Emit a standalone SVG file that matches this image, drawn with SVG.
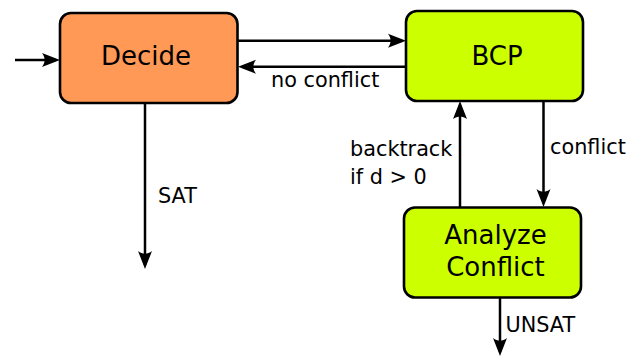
<svg xmlns="http://www.w3.org/2000/svg" width="641" height="357" viewBox="0 0 641 357">
<style>
.box{stroke:#000;stroke-width:2.6}
.orange{fill:#ff9955}
.green{fill:#ccff00}
.t{font-family:"DejaVu Sans",sans-serif;font-size:26px;fill:#000;text-anchor:middle}
.l{font-family:"DejaVu Sans",sans-serif;font-size:20.8px;fill:#000}
.c{fill:none;stroke:#000;stroke-width:2.5;marker-end:url(#ah)}
</style>
<defs>
<marker id="ah" markerUnits="userSpaceOnUse" viewBox="-14 -8 20 16" refX="0" refY="0" markerWidth="20" markerHeight="16" orient="auto" overflow="visible">
<path d="M4,0 L-14,-7 C-10.5,-2.5 -10.5,2.5 -14,7 Z" fill="#000"/>
</marker>
</defs>
<g id="connectors">
<path class="c" d="M15,60 H56"/>
<path class="c" d="M238,40.7 H402"/>
<path class="c" d="M406,66.7 H242"/>
<path class="c" d="M145,103 V265"/>
<path class="c" d="M460,207 V105"/>
<path class="c" d="M543.5,101 V203"/>
<path class="c" d="M500,297 V352"/>
<text class="l" x="271" y="87">no conflict</text>
<text class="l" x="158" y="203">SAT</text>
<text class="l" x="350" y="156">backtrack</text>
<text class="l" x="350" y="183.5">if d &gt; 0</text>
<text class="l" x="550" y="154">conflict</text>
<text class="l" x="505.5" y="332">UNSAT</text>
</g>
<g id="decide">
<rect class="box orange" x="60" y="13" width="177.5" height="90" rx="11"/>
<text class="t" x="146" y="65">Decide</text>
</g>
<g id="bcp">
<rect class="box green" x="406" y="11" width="177" height="90" rx="11"/>
<text class="t" x="497" y="65">BCP</text>
</g>
<g id="analyze">
<rect class="box green" x="404" y="207.5" width="177" height="90" rx="11"/>
<text class="t" x="495.5" y="244">Analyze</text>
<text class="t" x="495.5" y="276">Conflict</text>
</g>
</svg>
